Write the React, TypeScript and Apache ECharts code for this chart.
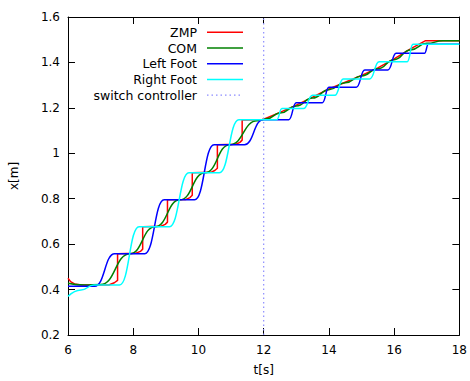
import React, { useEffect, useRef } from 'react';
import * as echarts from 'echarts';

// ---- data ----
const zmp: number[][] = [
  [6.0, 0.45], [6.08, 0.435], [6.2, 0.425], [6.4, 0.42], [7.25, 0.42], [7.42, 0.43], [7.52, 0.44],
  [7.52, 0.558], [8.08, 0.56], [8.22, 0.568], [8.29, 0.578],
  [8.29, 0.677], [8.85, 0.679], [8.98, 0.687], [9.05, 0.697],
  [9.05, 0.795], [9.62, 0.797], [9.74, 0.805], [9.81, 0.815],
  [9.81, 0.914], [10.38, 0.916], [10.5, 0.924], [10.58, 0.934],
  [10.58, 1.038], [11.15, 1.04], [11.27, 1.048], [11.34, 1.058],
  [11.34, 1.147], [11.95, 1.148],
  [12.0, 1.15], [12.5, 1.18], [13.0, 1.212], [13.5, 1.247], [14.0, 1.283], [14.5, 1.313],
  [15.0, 1.343], [15.5, 1.376], [16.0, 1.416], [16.5, 1.46], [16.95, 1.495], [18.0, 1.495],
];

const com: number[][] = [
  [6.0, 0.428], [6.5, 0.42], [7.0, 0.422], [7.9, 0.558], [8.67, 0.677], [9.43, 0.795],
  [10.2, 0.914], [10.96, 1.038], [11.8, 1.143], [12.1, 1.152], [12.5, 1.177], [13.0, 1.208],
  [13.5, 1.243], [14.0, 1.28], [14.5, 1.31], [15.0, 1.34], [15.5, 1.372], [16.0, 1.412],
  [16.5, 1.455], [17.0, 1.484], [17.5, 1.495], [18.0, 1.495],
];

const leftFoot: number[][] = [
  [6.0, 0.415], [6.82, 0.415], [7.43, 0.558], [8.35, 0.558], [8.95, 0.795], [9.88, 0.795],
  [10.48, 1.038], [11.41, 1.038], [11.98, 1.148], [12.77, 1.148], [13.0, 1.223], [13.8, 1.223],
  [14.0, 1.291], [14.84, 1.291], [15.1, 1.367], [15.81, 1.367], [16.06, 1.44], [16.93, 1.44],
  [17.05, 1.48], [18.0, 1.48],
];

const rightFoot: number[][] = [
  [6.0, 0.37], [6.4, 0.398], [6.8, 0.42], [7.58, 0.42], [8.18, 0.677], [9.11, 0.677], [9.71, 0.914],
  [10.64, 0.914], [11.24, 1.148], [12.4, 1.148], [12.56, 1.197], [13.22, 1.197], [13.5, 1.255],
  [14.18, 1.255], [14.44, 1.327], [15.25, 1.327], [15.54, 1.403], [16.4, 1.403], [16.58, 1.48],
  [18.0, 1.48],
];

const switchTime = 12;
const switchLine: number[][] = [[switchTime, 0.2], [switchTime, 1.6]];

const seriesNames = ['ZMP', 'COM', 'Left Foot', 'Right Foot', 'switch controller'];
const seriesColors = ['#ff0000', '#008000', '#0000ff', '#00ffff', '#8c8cff'];

const FONT = 'DejaVu Sans';

export default function App() {
  const ref = useRef<HTMLDivElement>(null);
  useEffect(() => {
    if (!ref.current) return;
    const chart = echarts.init(ref.current, undefined, { renderer: 'svg' });
    const axisCommon = {
      type: 'value' as const,
      axisLine: { show: true, onZero: false, lineStyle: { color: '#000', width: 1 } },
      axisTick: { show: true, inside: true, length: 7, lineStyle: { color: '#000' } },
      splitLine: { show: false },
    };
    const legendGraphics: any[] = [];
    seriesNames.forEach((n, i) => {
      const y = 32.3 + 15.7 * i;
      legendGraphics.push({
        type: 'text', x: 197, y,
        style: { text: n, align: 'right', verticalAlign: 'middle', fontSize: 12.5, fontFamily: FONT, fill: '#000' },
      });
      legendGraphics.push({
        type: 'line', shape: { x1: 207, y1: y, x2: 243, y2: y },
        style: { stroke: seriesColors[i], lineWidth: i === 4 ? 1.2 : 1.5, lineDash: i === 4 ? [1.5, 3] : null },
      });
    });
    const lineSeries = (name: string, data: number[][], color: string, smooth: boolean) => ({
      name, type: 'line', data, showSymbol: false, symbol: 'none',
      smooth: smooth ? 0.5 : false, smoothMonotone: smooth ? 'x' : undefined,
      lineStyle: { color, width: 1.5 }, itemStyle: { color }, clip: true,
    });
    chart.setOption({
      animation: false,
      backgroundColor: '#fff',
      textStyle: { fontFamily: FONT },
      grid: { left: 68, right: 8, top: 17, bottom: 45 },
      xAxis: [
        {
          ...axisCommon, position: 'bottom', min: 6, max: 18, interval: 2,
          axisLabel: { color: '#000', fontSize: 12, fontFamily: FONT, margin: 9 },
          name: 't[s]', nameLocation: 'middle', nameGap: 29,
          nameTextStyle: { color: '#000', fontSize: 12, fontFamily: FONT },
        },
        { ...axisCommon, position: 'top', min: 6, max: 18, interval: 2, axisLabel: { show: false } },
      ],
      yAxis: [
        {
          ...axisCommon, position: 'left', min: 0.2, max: 1.6, interval: 0.2,
          axisLabel: { color: '#000', fontSize: 12, fontFamily: FONT, margin: 8 },
          name: 'x[m]', nameLocation: 'middle', nameGap: 48,
          nameTextStyle: { color: '#000', fontSize: 12, fontFamily: FONT },
        },
        { ...axisCommon, position: 'right', min: 0.2, max: 1.6, interval: 0.2, axisLabel: { show: false } },
      ],
      series: [
        lineSeries('ZMP', zmp, seriesColors[0], false),
        lineSeries('COM', com, seriesColors[1], true),
        lineSeries('Left Foot', leftFoot, seriesColors[2], true),
        lineSeries('Right Foot', rightFoot, seriesColors[3], true),
        {
          name: 'switch controller', type: 'line', data: switchLine, showSymbol: false, symbol: 'none',
          lineStyle: { color: seriesColors[4], width: 1.2, type: [1.5, 3] },
        },
      ],
      graphic: legendGraphics,
    });
    return () => chart.dispose();
  }, []);
  return (
    <div
      ref={ref}
      style={{ position: 'fixed', left: 0, top: 0, width: 470, height: 381, background: '#fff' }}
    />
  );
}
